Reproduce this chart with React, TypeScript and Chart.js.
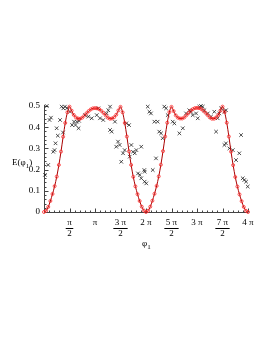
import { useEffect, useRef } from "react";
import { Chart, registerables } from "chart.js";

Chart.register(...registerables);

const PI = Math.PI;

// Red curve: E(φ1) sampled every π/24 from 0 to 4π
const curveStepPi = 1 / 24;
const curveE = [
  0, 0.006, 0.024, 0.052, 0.085, 0.122, 0.167, 0.222, 0.285, 0.355, 0.42, 0.47, 0.497,
  0.478, 0.458, 0.446, 0.441, 0.44, 0.445, 0.455, 0.466, 0.476, 0.484, 0.489, 0.49,
  0.489, 0.485, 0.477, 0.467, 0.456, 0.445, 0.44, 0.441, 0.447, 0.459, 0.479, 0.496,
  0.47, 0.42, 0.356, 0.286, 0.222, 0.166, 0.121, 0.084, 0.052, 0.025, 0.007, 0,
  0.006, 0.025, 0.053, 0.086, 0.123, 0.168, 0.223, 0.287, 0.356, 0.421, 0.471, 0.496,
  0.476, 0.456, 0.445, 0.441, 0.441, 0.446, 0.456, 0.467, 0.477, 0.485, 0.49, 0.491,
  0.49, 0.486, 0.478, 0.468, 0.457, 0.446, 0.44, 0.44, 0.446, 0.458, 0.478, 0.497,
  0.471, 0.421, 0.356, 0.285, 0.221, 0.165, 0.12, 0.083, 0.051, 0.024, 0.006, 0,
];

// Black × samples
const scatterPhi = [
  0.06, 0.17, 0.26, 0.34, 0.43, 0.57, 0.65, 0.71, 0.78, 0.85, 0.99, 1.09, 1.17, 1.19,
  1.29, 1.42, 1.6, 1.73, 1.85, 1.94, 2.03, 2.13, 2.16, 2.53, 2.73, 2.94, 3.25, 3.35,
  3.45, 3.65, 3.86, 3.96, 4.07, 4.07, 4.17, 4.37, 4.45, 4.56, 4.66, 4.76, 4.87, 4.97,
  5.07, 5.24, 5.28, 5.38, 5.48, 5.59, 5.69, 5.79, 5.9, 5.99, 5.99, 6.18, 6.2, 6.2,
  6.3, 6.39, 6.49, 6.59, 6.7, 6.8, 6.9, 7.0, 7.1, 7.21, 7.31, 7.41, 7.52, 7.62, 7.93,
  8.03, 8.34, 8.55, 8.75, 8.95, 9.06, 9.16, 9.37, 9.47, 9.57, 9.67, 9.78, 9.88, 10.09,
  10.29, 10.49, 10.6, 10.7, 10.8, 10.91, 11.11, 11.11, 11.21, 11.21, 11.42, 11.63,
  11.83, 12.03, 12.14, 12.24, 12.34, 12.45, 12.55,
];
const scatterE = [
  0.175, 0.5, 0.222, 0.434, 0.445, 0.284, 0.292, 0.324, 0.395, 0.36, 0.434, 0.497, 0.375, 0.489,
  0.497, 0.49, 0.473, 0.41, 0.426, 0.41, 0.426, 0.395, 0.43, 0.457, 0.45, 0.442, 0.457, 0.489,
  0.442, 0.434, 0.465, 0.48, 0.497, 0.387, 0.379, 0.426, 0.308, 0.332, 0.316, 0.237, 0.277, 0.292,
  0.418, 0.41, 0.261, 0.316, 0.284, 0.277, 0.292, 0.182, 0.175, 0.308, 0.159, 0.198, 0.143, 0.19,
  0.135, 0.497, 0.473, 0.465, 0.198, 0.426, 0.253, 0.426, 0.379, 0.371, 0.348, 0.497, 0.489, 0.457, 0.426,
  0.418, 0.371, 0.395, 0.465, 0.48, 0.473, 0.457, 0.465, 0.442, 0.497, 0.5, 0.497, 0.48, 0.465,
  0.45, 0.473, 0.379, 0.442, 0.465, 0.489, 0.473, 0.316, 0.48, 0.324, 0.3, 0.292,
  0.245, 0.277, 0.363, 0.159, 0.151, 0.143, 0.12,
];

const xTickPi = [0.5, 1, 1.5, 2, 2.5, 3, 3.5, 4];
const xTickLabels: (string | string[])[] = [
  ["π", "2"], "π", ["3 π", "2"], "2 π", ["5 π", "2"], "3 π", ["7 π", "2"], "4 π",
];
const yTicks = [0, 0.1, 0.2, 0.3, 0.4, 0.5];
const yTickLabels = ["0", "0.1", "0.2", "0.3", "0.4", "0.5"];

const FONT = "'Liberation Serif', 'DejaVu Serif', serif";
const FONT_SIZE = 9;
const LINE_H = FONT_SIZE * 1.2;
const X_PAD = 5;

const mapleAxes = {
  id: "mapleAxes",
  beforeDatasetsDraw(chart: any) {
    const { ctx } = chart;
    const xs = chart.scales.x;
    const ys = chart.scales.y;
    const x0 = Math.round(xs.getPixelForValue(0)) + 0.5;
    const x1 = xs.getPixelForValue(4 * PI);
    const y0 = Math.round(ys.getPixelForValue(0)) + 0.5;
    const y1 = ys.getPixelForValue(0.5);
    ctx.save();
    ctx.strokeStyle = "#444";
    ctx.lineWidth = 1;
    ctx.beginPath();
    ctx.moveTo(x0, y0);
    ctx.lineTo(x1, y0);
    ctx.moveTo(x0, y0);
    ctx.lineTo(x0, y1 - 1);
    for (let i = 1; i <= 40; i++) {
      const px = Math.round(xs.getPixelForValue((i * PI) / 10)) + 0.5;
      const len = i % 5 === 0 ? 4 : 2;
      ctx.moveTo(px, y0);
      ctx.lineTo(px, y0 - len);
    }
    for (let j = 1; j <= 25; j++) {
      const py = Math.round(ys.getPixelForValue(j * 0.02)) + 0.5;
      const len = j % 5 === 0 ? 4 : 2;
      ctx.moveTo(x0, py);
      ctx.lineTo(x0 + len, py);
    }
    ctx.stroke();
    ctx.restore();
  },
  afterDraw(chart: any) {
    const { ctx } = chart;
    const xs = chart.scales.x;
    const ys = chart.scales.y;
    const y0 = ys.getPixelForValue(0);
    ctx.save();
    ctx.font = `${FONT_SIZE}px ${FONT}`;
    ctx.strokeStyle = "#000";
    ctx.lineWidth = 1;
    // fraction bars
    ctx.beginPath();
    xTickLabels.forEach((lab, i) => {
      if (Array.isArray(lab)) {
        const px = xs.getPixelForValue(xTickPi[i] * PI);
        const w = ctx.measureText(lab[0]).width + 3;
        const by = Math.round(y0 + X_PAD + LINE_H) + 0.5;
        ctx.moveTo(px - w / 2, by);
        ctx.lineTo(px + w / 2, by);
      }
    });
    ctx.stroke();
    // axis titles
    ctx.fillStyle = "#000";
    ctx.textBaseline = "alphabetic";
    ctx.textAlign = "left";
    const drawPhiSub = (x: number, y: number, pre: string, post: string) => {
      ctx.font = `${FONT_SIZE}px ${FONT}`;
      ctx.fillText(pre, x, y);
      let cx = x + ctx.measureText(pre).width;
      ctx.font = `7px ${FONT}`;
      ctx.fillText("1", cx, y + 3);
      cx += ctx.measureText("1").width;
      ctx.font = `${FONT_SIZE}px ${FONT}`;
      if (post) ctx.fillText(post, cx, y);
    };
    drawPhiSub(12, 165, "E(φ", ")");
    drawPhiSub(142, 246, "φ", "");
    ctx.restore();
  },
};

export default function App() {
  const ref = useRef<HTMLCanvasElement | null>(null);
  useEffect(() => {
    if (!ref.current) return;
    const chart = new Chart(ref.current, {
      type: "scatter",
      data: {
        datasets: [
          {
            type: "line",
            data: curveE.map((e, i) => ({ x: i * curveStepPi * PI, y: e })),
            borderColor: "#a80000",
            borderWidth: 1,
            pointStyle: "circle",
            pointRadius: 1.5,
            pointBorderColor: "#ff2a2a",
            pointBackgroundColor: "rgba(0,0,0,0)",
            pointBorderWidth: 0.8,
            cubicInterpolationMode: "monotone",
            clip: false,
            order: 0,
          } as any,
          {
            type: "scatter",
            data: scatterPhi.map((p, i) => ({ x: p, y: scatterE[i] })),
            pointStyle: "crossRot",
            pointRadius: 2.5,
            borderColor: "#222",
            borderWidth: 0.8,
            showLine: false,
            clip: false,
            order: 1,
          } as any,
        ],
      },
      options: {
        responsive: false,
        animation: false,
        devicePixelRatio: 1,
        layout: { padding: { left: 0, right: 24, top: 106, bottom: 100 } },
        plugins: { legend: { display: false }, tooltip: { enabled: false } },
        scales: {
          x: {
            type: "linear",
            min: 0,
            max: 4 * PI,
            grid: { display: false, drawTicks: false },
            border: { display: false },
            afterBuildTicks: (s: any) => {
              s.ticks = xTickPi.map((v) => ({ value: v * PI }));
            },
            afterFit: (s: any) => {
              s.height = 40;
            },
            ticks: {
              padding: X_PAD,
              autoSkip: false,
              maxRotation: 0,
              color: "#000",
              font: { family: FONT, size: FONT_SIZE },
              callback: (_v: any, i: number) => xTickLabels[i],
            },
          },
          y: {
            type: "linear",
            min: 0,
            max: 0.5,
            grid: { display: false, drawTicks: false },
            border: { display: false },
            afterBuildTicks: (s: any) => {
              s.ticks = yTicks.map((v) => ({ value: v }));
            },
            afterFit: (s: any) => {
              s.width = 44;
            },
            ticks: {
              padding: 4,
              color: "#000",
              font: { family: FONT, size: FONT_SIZE },
              callback: (_v: any, i: number) => yTickLabels[i],
            },
          },
        },
      } as any,
      plugins: [mapleAxes],
    });
    return () => chart.destroy();
  }, []);
  return (
    <div style={{ position: "absolute", left: 0, top: 0, width: 272, height: 352 }}>
      <canvas ref={ref} width={272} height={352} style={{ width: 272, height: 352 }} />
    </div>
  );
}
